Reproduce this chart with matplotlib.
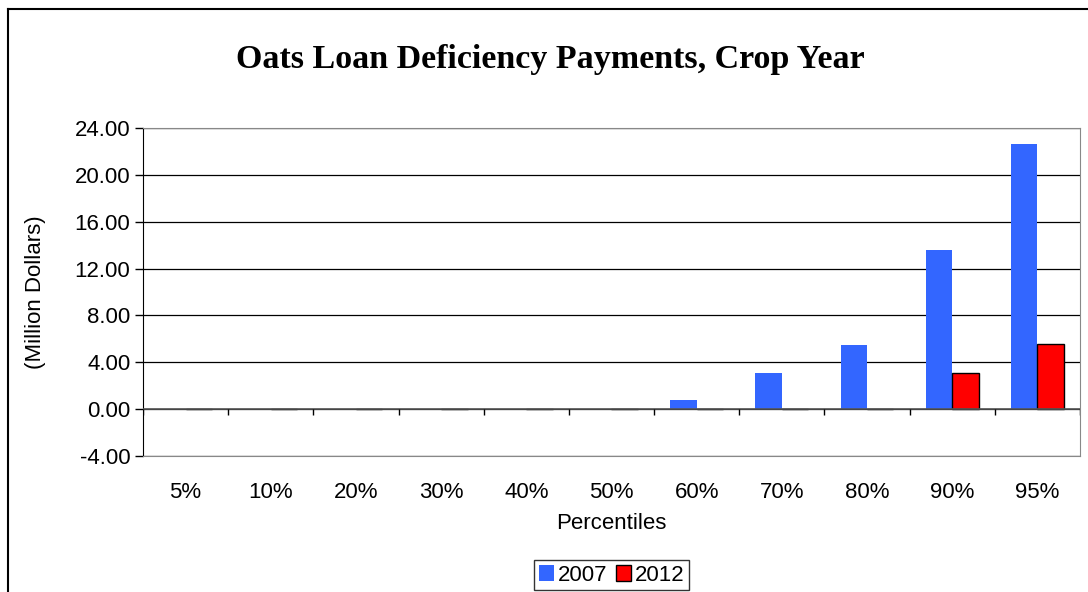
import numpy as np
import matplotlib
matplotlib.use("Agg")
import matplotlib.pyplot as plt
from matplotlib.lines import Line2D

categories = ["5%", "10%", "20%", "30%", "40%", "50%", "60%", "70%", "80%", "90%", "95%"]
vals_2007 = [0, 0, 0, 0, 0, 0, 0.77, 3.07, 5.46, 13.58, 22.63]
vals_2012 = [0, 0, 0, 0, 0, 0, 0, 0, 0, 3.1, 5.58]

plt.rcParams['font.family'] = ['Liberation Sans', 'DejaVu Sans']

fig = plt.figure(figsize=(10.88, 5.92), dpi=100)
ax = fig.add_axes([0.1314, 0.2297, 0.8612, 0.5541])

x = np.arange(len(categories))
w = 0.31
ax.bar(x - w / 2, vals_2007, w, color="#3366FF", label="2007", zorder=3)
ax.bar(x + w / 2, vals_2012, w, color="#FF0000", edgecolor="black", linewidth=1.0,
       label="2012", zorder=3)

ax.set_ylim(-4, 24)
ax.set_xlim(-0.5, len(categories) - 0.5)
ax.set_yticks(np.arange(-4, 25, 4))
ax.set_yticklabels(["%.2f" % v for v in np.arange(-4, 25, 4)], fontsize=16)
ax.yaxis.grid(True, color="black", linewidth=0.9, zorder=0)
ax.tick_params(axis="y", direction="out", length=6, width=1, pad=3)

ax.set_xticks(x)
ax.set_xticklabels(categories, fontsize=16)
ax.tick_params(axis="x", length=0, pad=19)

# category axis crossing at zero with tick marks between categories
ax.axhline(0, color="#555555", linewidth=1.2, zorder=4)
ax.vlines(np.arange(-0.5, len(categories), 1.0), -0.5, 0, color="black",
          linewidth=1.0, zorder=4)

for s in ["top", "right", "bottom"]:
    ax.spines[s].set_color("#888888")
ax.spines["left"].set_color("black")

ax.set_ylabel("(Million Dollars)", fontsize=16, labelpad=21)
ax.set_xlabel("Percentiles", fontsize=16, labelpad=7)

fig.text(0.506, 0.899, "Oats Loan Deficiency Payments, Crop Year", ha="center", va="center",
         fontsize=24.5, fontweight="bold", family=["Liberation Serif", "DejaVu Serif"])

leg = fig.legend(loc="center", ncol=2, fontsize=16,
                 frameon=True, fancybox=False, handlelength=0.7, handleheight=0.7,
                 handletextpad=0.15, columnspacing=0.4, borderpad=0.2)
leg.set_bbox_to_anchor((0.562, 0.0287), transform=fig.transFigure)
leg.get_frame().set_edgecolor("black")
leg.get_frame().set_linewidth(1.0)

# chart area border
fig.add_artist(Line2D([0.0074, 0.0074], [0, 0.985], color="black", linewidth=1.5,
                      transform=fig.transFigure))
fig.add_artist(Line2D([0.0074, 1.0], [0.985, 0.985], color="black", linewidth=1.5,
                      transform=fig.transFigure))

fig.savefig("out.png", dpi=100)
